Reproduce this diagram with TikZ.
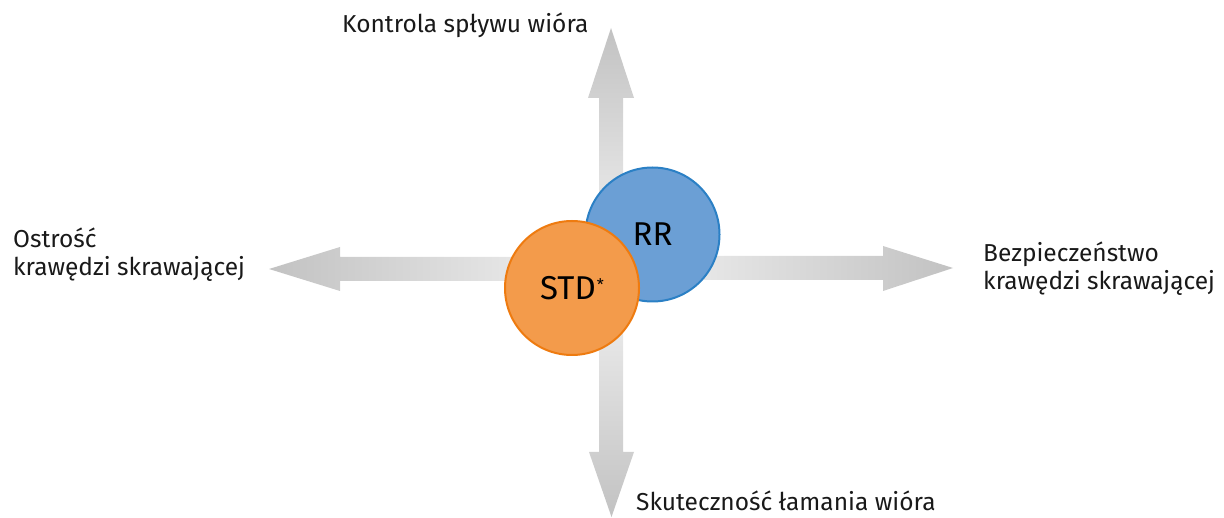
\documentclass[tikz,border=0pt]{standalone}
\usepackage{fontspec}
\setmainfont{Fira Sans}
\definecolor{rrfill}{HTML}{6B9FD5}
\definecolor{rrline}{HTML}{2B80C5}
\definecolor{stdfill}{HTML}{F39B4B}
\definecolor{stdline}{HTML}{EE7B10}
\definecolor{arrlight}{HTML}{F4F4F4}
\definecolor{arrdark}{HTML}{C2C2C2}
\begin{document}
\begin{tikzpicture}[x=1pt,y=-1pt,
  lbl/.style={inner sep=0pt,align=left,font=\fontsize{24.5}{28}\selectfont,text=black!90},
  bubble/.style={circle,minimum size=134pt,inner sep=0pt,line width=2pt,font=\fontsize{33}{38}\selectfont}]
\useasboundingbox (0,0) rectangle (1224,518);
\coordinate (c) at (611,268.5);
% up arrow
\shade[top color=arrdark,bottom color=arrlight]
  (599,268.5) -- (599,98) -- (588,98) -- (611,28) -- (634,98) -- (623,98) -- (623,268.5) -- cycle;
% down arrow
\shade[bottom color=arrdark,top color=arrlight]
  (599,268.5) -- (599,452) -- (589,452) -- (611.5,517) -- (634,452) -- (623,452) -- (623,268.5) -- cycle;
% left arrow
\shade[left color=arrdark,right color=arrlight]
  (611,257) -- (340,257) -- (340,247) -- (269,269) -- (340,291) -- (340,281) -- (611,281) -- cycle;
% right arrow
\shade[right color=arrdark,left color=arrlight]
  (611,256) -- (883,256) -- (883,246) -- (953,268) -- (883,291) -- (883,280) -- (611,280) -- cycle;
% circles
\node[bubble,draw=rrline,fill=rrfill] (rr) at (652.5,234.5) {RR};
\node[bubble,draw=stdline,fill=stdfill] (std) at (572,288) {STD\kern1pt\raisebox{9pt}{\fontsize{16}{16}\selectfont*}};
% labels
\node[lbl,anchor=base west] (up) at (342,33) {Kontrola spływu wióra};
\node[lbl,anchor=base west] (down) at (636,510) {Skuteczność łamania wióra};
\node[lbl,anchor=base west] (left) at (13,276) {Ostrość\\krawędzi skrawającej};
\node[lbl,anchor=base west] (right) at (983,290) {Bezpieczeństwo\\krawędzi skrawającej};
\end{tikzpicture}
\end{document}
